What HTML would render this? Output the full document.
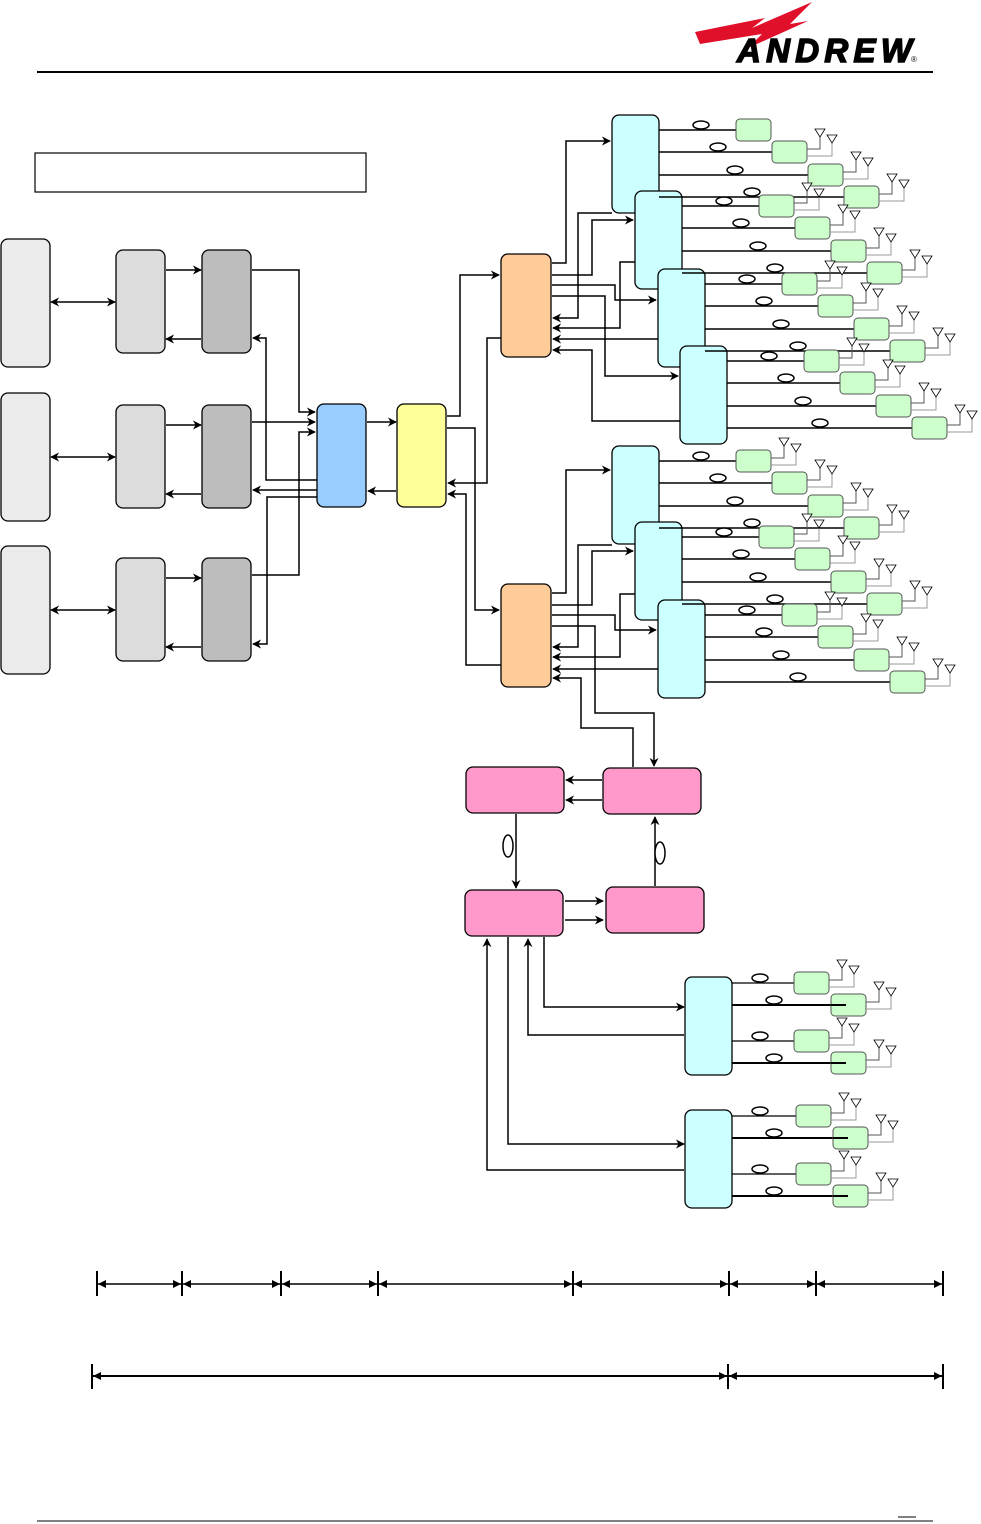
<!DOCTYPE html>
<html><head><meta charset="utf-8"><style>
html,body{margin:0;padding:0;background:#fff;}
svg{display:block;}
</style></head><body>
<svg id="s" width="981" height="1524" viewBox="0 0 981 1524" xmlns="http://www.w3.org/2000/svg">
<defs>
<marker id="a" viewBox="0 0 10 10" refX="9" refY="5" markerWidth="9" markerHeight="9" markerUnits="userSpaceOnUse" orient="auto-start-reverse">
<path d="M0,0 L10,5 L0,10 L3,5 z" fill="#000"/></marker>
<marker id="t" viewBox="0 0 10 10" refX="10" refY="5" markerWidth="8" markerHeight="10" markerUnits="userSpaceOnUse" orient="auto-start-reverse">
<path d="M0,0 L10,5 L0,10 z" fill="#000"/></marker>
</defs>
<!-- header -->
<polygon points="695,32 765,18 752,28 812,2 790,24 808,21 748,48 762,34 700,44" fill="#e0102a"/>
<text x="737" y="62" font-family="Liberation Sans, sans-serif" font-weight="900" font-style="italic" font-size="33" fill="#000" stroke="#000" stroke-width="1.5" textLength="175">ANDREW</text>
<text x="911" y="62" font-family="Liberation Sans, sans-serif" font-size="8">®</text>
<line x1="37" y1="72" x2="933" y2="72" stroke="#000" stroke-width="2"/>
<line x1="37" y1="1521" x2="933" y2="1521" stroke="#000" stroke-width="1"/>
<line x1="898" y1="1517" x2="916" y2="1517" stroke="#000" stroke-width="1"/>
<rect x="35" y="153" width="331" height="39" fill="none" stroke="#000" stroke-width="1.2"/>
<g id="g" stroke="#000" stroke-width="1.3" fill="none"></g>
</svg>
<script>
const g=document.getElementById('g');
let h='';
function R(x,y,w,hh,f,rx){h+=`<rect x="${x}" y="${y}" width="${w}" height="${hh}" rx="${rx||7}" fill="${f}" stroke="#000" stroke-width="1.3"/>`;}
function P(pts,end,start,sw){h+=`<polyline points="${pts}" fill="none" stroke="#000" stroke-width="${sw||1.5}" ${end?'marker-end="url(#a)"':''} ${start?'marker-start="url(#a)"':''}/>`;}
function E(x,y,rx,ry){h+=`<ellipse cx="${x}" cy="${y}" rx="${rx||8}" ry="${ry||4}" fill="#fff" stroke="#000" stroke-width="1.5"/>`;}
function ant(x,y){
 h+=`<polyline points="${x},${y-3} ${x+13},${y-3} ${x+13},${y-16}" stroke="#555" stroke-width="1" fill="none"/>`;
 h+=`<polyline points="${x},${y+4} ${x+25},${y+4} ${x+25},${y-10}" stroke="#999" stroke-width="1" fill="none"/>`;
 h+=`<polygon points="${x+8},${y-23} ${x+18},${y-23} ${x+13},${y-15}" fill="#fff" stroke="#000" stroke-width="0.8"/>`;
 h+=`<polygon points="${x+20},${y-17} ${x+30},${y-17} ${x+25},${y-9}" fill="#fff" stroke="#000" stroke-width="0.8"/>`;
}
function green(x,y,an){h+=`<rect x="${x}" y="${y}" width="35" height="22" rx="4" fill="#ccffcc" stroke="#555" stroke-width="1"/>`; if(an) ant(x+35,y+11);}
[[239,250],[393,405],[546,558]].forEach(([a,b])=>{
 R(1,a,49,128,'#ebebeb');R(116,b,49,103,'#dcdcdc');R(202,b,49,103,'#bdbdbd');
 const m=b+52; P(`51,${m} 115,${m}`,1,1);
 P(`166,${b+20} 201,${b+20}`,1); P(`201,${b+89} 166,${b+89}`,1);
});
P('252,270 299,270 299,412 315,412',1);
P('252,422 315,422',1);
P('252,575 299,575 299,432 315,432',1);
P('317,480 266,480 266,338 253,338',1);
P('317,490 253,490',1);
P('317,497 267,497 267,644 253,644',1);
R(317,404,49,103,'#99ccff');R(397,404,49,103,'#ffff99');
P('367,422 396,422',1); P('396,491 368,491',1);
P('447,416 460,416 460,275 499,275',1);
P('447,428 475,428 475,610 499,610',1);
P('501,338 487,338 487,483 448,483',1);
P('501,665 466,665 466,494 448,494',1);
R(501,254,50,103,'#ffcc99');R(501,584,50,103,'#ffcc99');
const c1=[[612,115],[635,191],[658,269],[680,346]];
const c2=[[612,446],[635,522],[658,600]];
P('552,263 566,263 566,141 610,141',1);
P('552,275 592,275 592,220 633,220',1);
P('552,285 615,285 615,300 656,300',1);
P('552,296 605,296 605,376 678,376',1);
P('612,213 578,213 578,318 553,318',1);
P('635,262 620,262 620,328 553,328',1);
P('658,339 553,339',1);
P('680,421 592,421 592,350 553,350',1);
P('552,593 566,593 566,470 610,470',1);
P('552,605 592,605 592,551 633,551',1);
P('552,615 615,615 615,630 656,630',1);
P('552,626 595,626 595,713 654,713 654,766',1);
P('612,545 578,545 578,647 553,647',1);
P('635,594 620,594 620,657 553,657',1);
P('658,669 553,669',1);
P('633,767 633,728 581,728 581,678 553,678',1);
c1.concat(c2).forEach(([x,y])=>R(x,y,47,98,'#ccffff'));
function fan(x,y,first){const off=[15,37,60,82];for(let i=0;i<4;i++){const ly=y+off[i];const gx=x+124+i*36;
 h+=`<line x1="${x+47}" y1="${ly}" x2="${gx}" y2="${ly}" stroke="#000" stroke-width="1.6"/>`;
 E(x+89+i*17,ly-5,8,4); green(gx,ly-11,i>0||first);}}
c1.forEach(([x,y],k)=>fan(x,y,k>0));
c2.forEach(([x,y])=>fan(x,y,true));
R(466,767,98,46,'#ff99cc');R(603,768,98,46,'#ff99cc');R(465,890,98,46,'#ff99cc');R(606,887,98,46,'#ff99cc');
P('602,780 566,780',1);P('602,800 566,800',1);
P('516,814 516,888',1);E(508,846,5,11);
P('655,886 655,817',1);E(660,853,5,11);
P('565,901 603,901',1);P('565,920 603,920',1);
R(685,977,47,98,'#ccffff');R(685,1110,47,98,'#ccffff');
P('544,937 544,1007 684,1007',1);
P('684,1035 528,1035 528,939',1);
P('508,937 508,1144 684,1144',1);
P('684,1170 487,1170 487,939',1);
function fan2(x,y){const off=[6,28,64,86];off.forEach((o,i)=>{const ly=y+o;const gx=(i%2?831:794)+(y>1000?2:0);
 h+=`<line x1="${x+47}" y1="${ly}" x2="${gx+(i%2?15:0)}" y2="${ly}" stroke="#000" stroke-width="${i%2?2:1.2}"/>`;
 green(gx,ly-11,true); if(i%2) h+=`<line x1="${gx}" y1="${ly}" x2="${gx+15}" y2="${ly}" stroke="#000" stroke-width="2"/>`;
 E(x+75+(i%2?14:0),ly-5,8,4);});}
fan2(685,977);fan2(685,1110);
const t1=[97,182,281,378,573,729,816,943];
t1.forEach(x=>h+=`<line x1="${x}" y1="1271" x2="${x}" y2="1296" stroke="#000" stroke-width="2"/>`);
for(let i=0;i<t1.length-1;i++)h+=`<line x1="${t1[i]+1}" y1="1284" x2="${t1[i+1]-1}" y2="1284" stroke="#000" stroke-width="1.5" marker-start="url(#t)" marker-end="url(#t)"/>`;
const t2=[92,728,943];
t2.forEach(x=>h+=`<line x1="${x}" y1="1364" x2="${x}" y2="1389" stroke="#000" stroke-width="2"/>`);
for(let i=0;i<2;i++)h+=`<line x1="${t2[i]+1}" y1="1376" x2="${t2[i+1]-1}" y2="1376" stroke="#000" stroke-width="2" marker-start="url(#t)" marker-end="url(#t)"/>`;
g.innerHTML=h;
</script>
</body></html>
